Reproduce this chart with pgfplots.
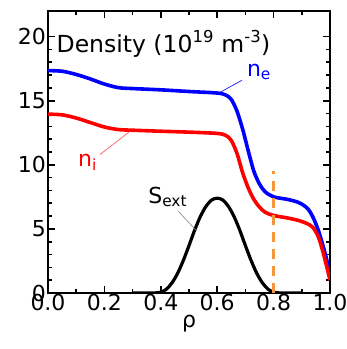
\documentclass[border=0pt]{standalone}
\usepackage{fontspec}
\setmainfont{DejaVu Sans}
\usepackage{pgfplots}
\pgfplotsset{compat=1.18}
\definecolor{dashorange}{RGB}{245,150,60}
\begin{document}
\fontsize{22}{26}\selectfont
\begin{tikzpicture}
\begin{axis}[
  scale only axis,
  width=282pt, height=282pt,
  xmin=0, xmax=1, ymin=0, ymax=22,
  xtick={0,0.2,...,1.0}, ytick={0,5,10,15,20},
  minor x tick num=1, minor y tick num=4,
  tick align=inside,
  major tick length=7pt, minor tick length=4pt,
  every tick/.style={black, line width=1.6pt},
  axis line style={line width=2.4pt},
  tick label style={font=\fontsize{22}{26}\selectfont},
  /pgf/number format/assume math mode=true,
  xticklabel style={/pgf/number format/fixed, /pgf/number format/fixed zerofill, /pgf/number format/precision=1, inner sep=1pt},
  yticklabel style={inner sep=2pt},
  xlabel={ρ},
  xlabel style={font=\fontsize{22}{26}\selectfont, yshift=4pt},
  clip=true,
]
\addplot[blue, line width=3.6pt, smooth, tension=0.5] coordinates {
(0,17.35) (0.05,17.3) (0.1,17.05) (0.15,16.7) (0.2,16.3) (0.25,16.02) (0.3,15.95)
(0.4,15.85) (0.5,15.72) (0.6,15.6) (0.63,15.45) (0.65,15.1) (0.67,14.2) (0.69,12.8)
(0.71,11.1) (0.73,9.5) (0.75,8.5) (0.77,7.9) (0.8,7.5) (0.85,7.3) (0.89,7.05)
(0.92,6.6) (0.94,5.9) (0.96,4.8) (0.98,3.3) (1.0,1.6)};
\addplot[red, line width=3.6pt, smooth, tension=0.5] coordinates {
(0,13.95) (0.05,13.9) (0.1,13.65) (0.15,13.3) (0.2,12.95) (0.25,12.75) (0.3,12.7)
(0.4,12.62) (0.5,12.55) (0.6,12.45) (0.63,12.3) (0.65,11.9) (0.67,10.9) (0.69,9.4)
(0.71,8.2) (0.73,7.3) (0.75,6.7) (0.77,6.3) (0.8,6.05) (0.85,5.85) (0.89,5.65)
(0.92,5.4) (0.94,5.1) (0.96,4.3) (0.98,2.8) (1.0,1.0)};
\addplot[black, line width=3.2pt, smooth, tension=0.5] coordinates {
(0.30,0) (0.36,0) (0.38,0.01) (0.40,0.06) (0.42,0.3) (0.44,0.8) (0.46,1.55) (0.48,2.55)
(0.50,3.7) (0.52,4.9) (0.54,5.95) (0.56,6.75) (0.58,7.25) (0.60,7.4) (0.62,7.25)
(0.64,6.75) (0.66,5.95) (0.68,4.9) (0.70,3.7) (0.72,2.55) (0.74,1.55) (0.76,0.8)
(0.78,0.3) (0.80,0.06) (0.82,0.01) (0.84,0) (0.90,0)};
\addplot[dashorange, line width=2.8pt, dash pattern=on 10pt off 7pt] coordinates {(0.8,0) (0.8,9.5)};
\node[anchor=base west, inner sep=0pt, font=\fontsize{23.5}{28}\selectfont] at (axis cs:0.03,18.8) {Density (10\textsuperscript{19} m\textsuperscript{-3})};
\node[anchor=base west, inner sep=0pt, text=blue] at (axis cs:0.705,16.9) {n\textsubscript{e}};
\node[anchor=base west, inner sep=0pt, text=red] at (axis cs:0.106,9.9) {n\textsubscript{i}};
\node[anchor=base west, inner sep=0pt] at (axis cs:0.355,7.0) {S\textsubscript{ext}};
\draw[blue, line width=0.6pt] (axis cs:0.688,16.6) -- (axis cs:0.61,15.65);
\draw[red!70, line width=0.6pt] (axis cs:0.184,10.8) -- (axis cs:0.29,12.6);
\draw[gray, line width=0.6pt] (axis cs:0.461,6.4) -- (axis cs:0.527,4.85);
\end{axis}
\pgfresetboundingbox
\path ([shift={(-48pt,-56pt)}]current axis.south west) rectangle ([shift={(17pt,11pt)}]current axis.north east);
\end{tikzpicture}
\end{document}
